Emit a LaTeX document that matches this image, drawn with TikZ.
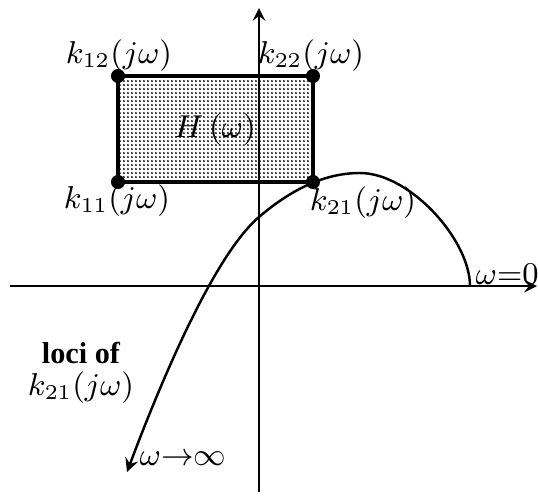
\documentclass[tikz,border=0pt]{standalone}
\usepackage{fontspec}
\setmainfont{Liberation Serif}
\usetikzlibrary{patterns.meta}
\tikzdeclarepattern{
  name=fdots, type=uncolored,
  bottom left={(0pt,0pt)}, top right={(1.25pt,1.25pt)},
  tile size={(1.25pt,1.25pt)},
  code={\fill (0.62pt,0.62pt) circle (0.33pt);}
}
\tikzset{
  axis/.style={line width=0.6pt, ->, >=stealth},
  corner/.style={circle, fill, inner sep=0pt, minimum size=4pt},
  lbl/.style={font=\fontsize{8.6}{10}\selectfont, inner sep=1pt}
}
\begin{document}
\begin{tikzpicture}[x=0.01cm, y=-0.01cm]
    \useasboundingbox (0,0) rectangle (538,499);
    % axes
    \coordinate (xl) at (10,286);
    \coordinate (xr) at (537,286);
    \coordinate (yb) at (259,492);
    \coordinate (yt) at (259,8);
    \draw[axis] (xl) -- (xr);
    % region H
    \coordinate (c12) at (118,76);
    \coordinate (c22) at (313,76);
    \coordinate (c11) at (118,182);
    \coordinate (c21) at (313,182);
    \fill[pattern=fdots, pattern color=black] (c11) rectangle (c22);
    \draw[axis] (yb) -- (yt);
    \draw[line width=1pt] (c11) rectangle (c22);
    \foreach \c in {c11,c12,c21,c22} \node[corner] at (\c) {};
    \node[lbl] (h) at (215,130) {$H\,(\omega)$};
    \node[lbl] (k12) at (119,56) {$k_{12}(j\omega)$};
    \node[lbl] (k22) at (311,56) {$k_{22}(j\omega)$};
    \node[lbl] (k11) at (117,201) {$k_{11}(j\omega)$};
    \node[lbl] (k21) at (363,203) {$k_{21}(j\omega)$};
    % locus
    \draw[line width=0.7pt, ->, >=stealth] (470,286)
      .. controls (470,240) and (410,173) .. (360,173)
      .. controls (326,173) and (293,188) .. (259,217)
      .. controls (212,257) and (157,392) .. (127,472);
    \node[lbl, anchor=west, inner sep=0pt] (w0) at (475,274) {$\omega{=}0$};
    \node[lbl, anchor=west, inner sep=0pt] (winf) at (139,459) {$\omega{\to}\infty$};
    \node[lbl, align=center] (loci) at (81,373) {\bfseries loci of\\[-1pt]$k_{21}(j\omega)$};
  \end{tikzpicture}
\end{document}
